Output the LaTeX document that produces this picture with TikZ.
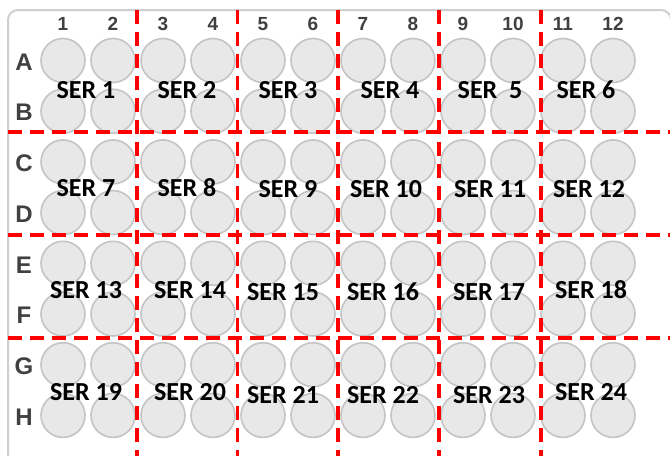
\documentclass[tikz,border=0pt]{standalone}
\usepackage{fontspec}
\setmainfont{Carlito}
\newfontfamily\arialfont{Liberation Sans}
\definecolor{wellfill}{HTML}{E8E8E8}
\definecolor{welldraw}{HTML}{C4C4C4}
\definecolor{framecol}{HTML}{CFCFCF}
\definecolor{labgray}{HTML}{404040}
\definecolor{sepred}{HTML}{FF0000}
\begin{document}
\begin{tikzpicture}[x=1pt,y=-1pt,
  well/.style={circle,draw=welldraw,fill=wellfill,line width=1.6pt,minimum size=44pt,inner sep=0pt},
  serlab/.style={font=\fontsize{26}{26}\selectfont\bfseries,text=black,inner sep=0pt},
  collab/.style={font=\arialfont\fontsize{19}{19}\selectfont\bfseries,text=labgray,inner sep=0pt},
  rowlab/.style={font=\arialfont\fontsize{24}{24}\selectfont\bfseries,text=labgray,inner sep=0pt},
  sepline/.style={draw=sepred,line width=3.2pt,dash pattern=on 14pt off 8pt}]
\useasboundingbox (0,0) rectangle (670,456);
\fill[white] (0,0) rectangle (670,456);
% plate frame
\draw[framecol,line width=2pt] (8,456) -- (8,20) arc[start angle=180,end angle=270,radius=10] -- (661,10) arc[start angle=270,end angle=360,radius=10] -- (671,456);
% column numbers
\foreach \c in {1,...,12}{
  \node[collab] (col\c) at ({63+50*(\c-1)},24) {\c};
}
% row letters and wells
\foreach \r [count=\i from 0] in {A,B,C,D,E,F,G,H}{
  \node[rowlab] (row\r) at (24,{62+50.7*\i}) {\r};
  \foreach \c in {1,...,12}{
    \node[well] (w\r\c) at ({63+50*(\c-1)},{60.5+50.7*\i}) {};
  }
}
% separators
\foreach \x [count=\k] in {137,237.5,338,439,541}{
  \coordinate (vt\k) at (\x,10);
  \coordinate (vb\k) at (\x,456);
  \draw[sepline] (vt\k) -- (vb\k);
}
\foreach \y [count=\k] in {132,235,338}{
  \coordinate (hl\k) at (8,\y);
  \coordinate (hr\k) at (670,\y);
  \draw[sepline] (hl\k) -- (hr\k);
}
% series labels
\node[serlab] (s1) at (86,90) {SER 1};
\node[serlab] (s2) at (187,90) {SER 2};
\node[serlab] (s3) at (288,90) {SER 3};
\node[serlab] (s4) at (390,90) {SER 4};
\node[serlab] (s5) at (490,90) {SER\ \ 5};
\node[serlab] (s6) at (586,90) {SER 6};
\node[serlab] (s7) at (86,188) {SER 7};
\node[serlab] (s8) at (187,188) {SER 8};
\node[serlab] (s9) at (288,189) {SER 9};
\node[serlab] (s10) at (386,189) {SER 10};
\node[serlab] (s11) at (490,189) {SER 11};
\node[serlab] (s12) at (589,189) {SER 12};
\node[serlab] (s13) at (86,290) {SER 13};
\node[serlab] (s14) at (190,290) {SER 14};
\node[serlab] (s15) at (283,292) {SER 15};
\node[serlab] (s16) at (383,292) {SER 16};
\node[serlab] (s17) at (489,292) {SER 17};
\node[serlab] (s18) at (591,290) {SER 18};
\node[serlab] (s19) at (86,392) {SER 19};
\node[serlab] (s20) at (190,392) {SER 20};
\node[serlab] (s21) at (283,395) {SER 21};
\node[serlab] (s22) at (383,395) {SER 22};
\node[serlab] (s23) at (489,395) {SER 23};
\node[serlab] (s24) at (591,392) {SER 24};
\end{tikzpicture}
\end{document}
